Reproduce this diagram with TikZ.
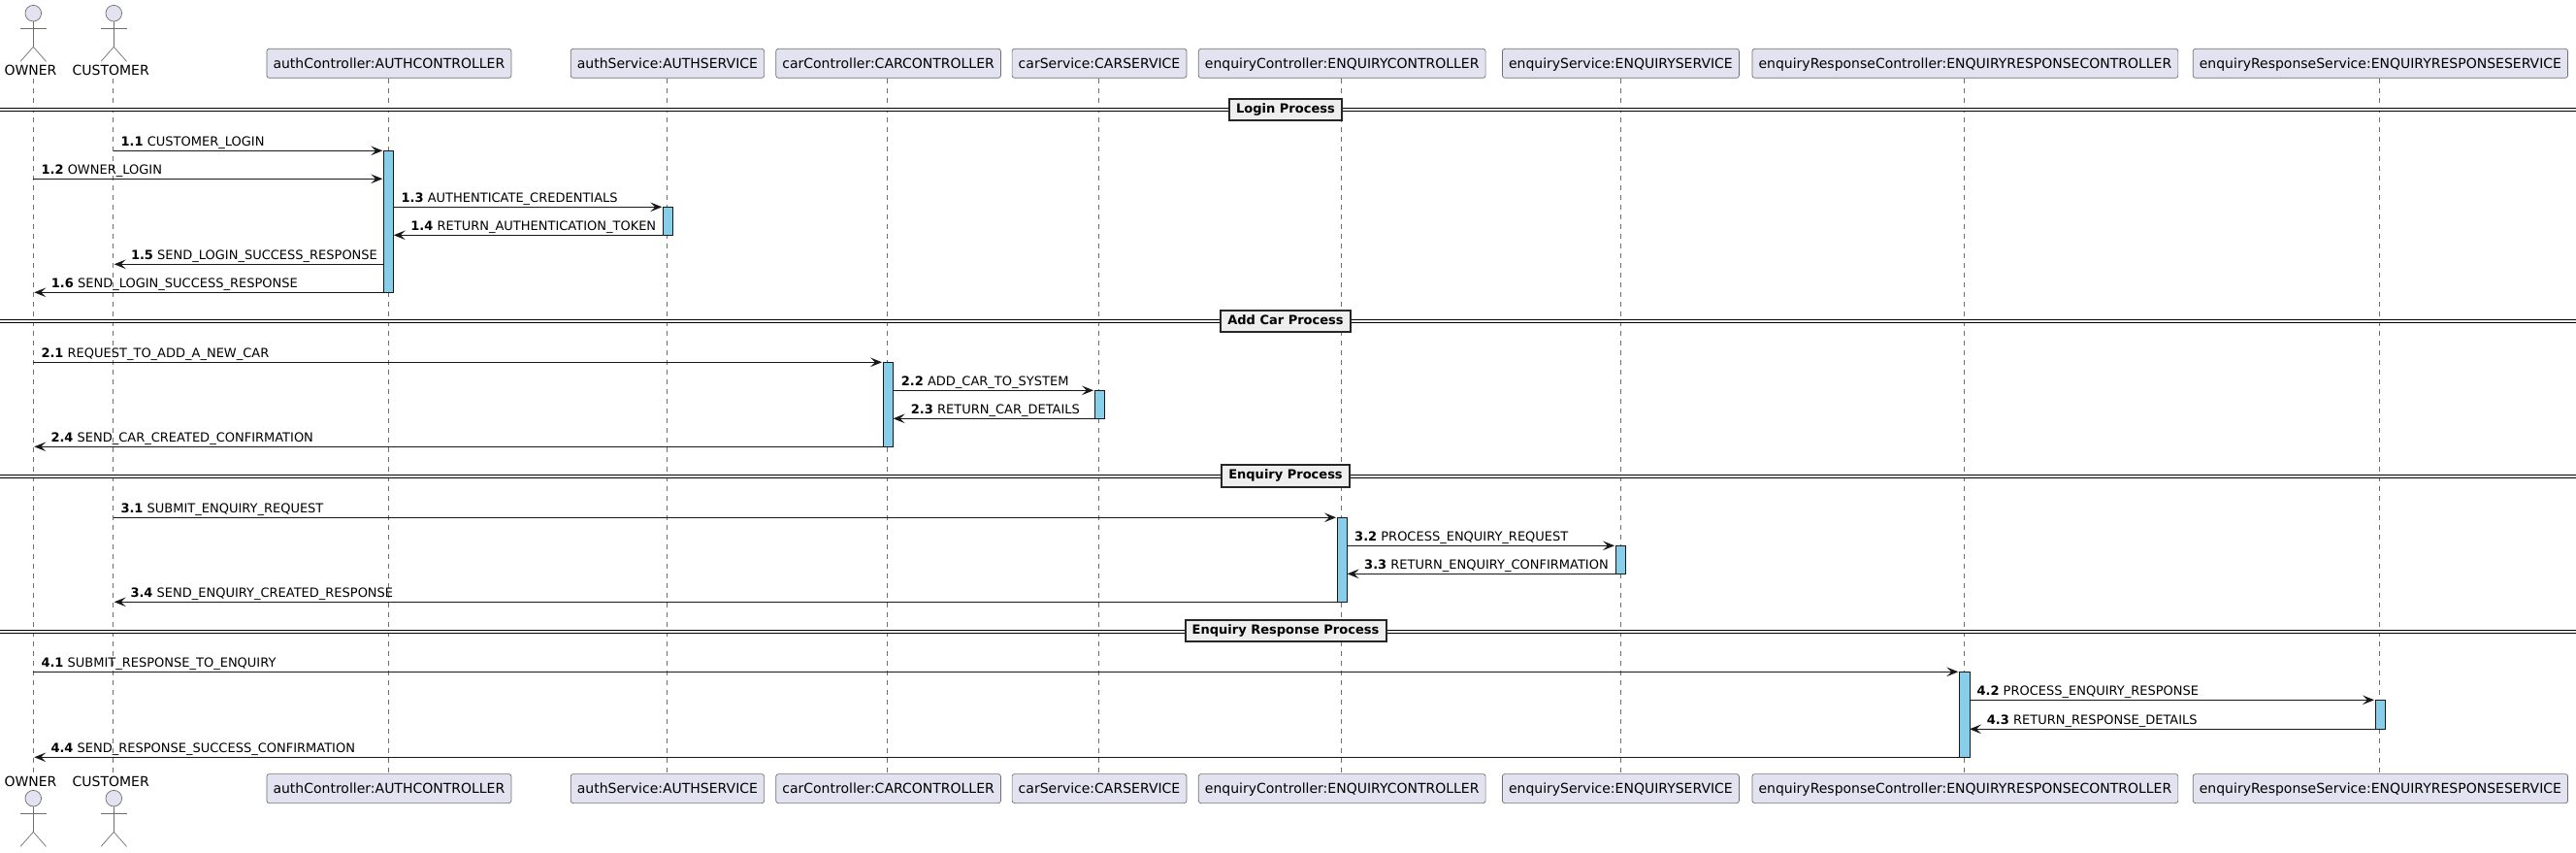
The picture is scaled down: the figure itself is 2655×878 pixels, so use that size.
\documentclass[tikz,border=0pt]{standalone}
\usepackage{fontspec}
\setmainfont{DejaVu Sans}
\usetikzlibrary{arrows.meta}

\definecolor{inkdark}{HTML}{181818}
\definecolor{inkthin}{HTML}{6E6E6E}
\definecolor{partfill}{HTML}{E2E2F0}
\definecolor{barfill}{HTML}{87CEEB}
\definecolor{sepfill}{HTML}{EEEEEE}

\tikzset{
    partbox/.style={draw=inkthin, line width=0.7pt, fill=partfill, rounded corners=2.5pt,
        inner xsep=6.6pt, inner ysep=0pt, minimum height=30pt, text height=12.4pt, text depth=3pt,
        font=\fontsize{14}{16}\selectfont, text=black},
    actorname/.style={inner sep=0pt, anchor=base, font=\fontsize{14}{16}\selectfont, text=black},
    stickman/.pic={
        \draw[inkthin, line width=0.7pt, fill=partfill] (0,0) circle (8.3pt);
        \draw[inkthin, line width=0.7pt] (0,8.3) -- (0,34.6);
        \draw[inkthin, line width=0.7pt] (-13.2,15.6) -- (13.2,15.6);
        \draw[inkthin, line width=0.7pt] (-13.2,49.6) -- (0,34.6) -- (13.2,49.6);
    },
    lifeline/.style={draw=inkthin, line width=0.6pt, dash pattern=on 5pt off 5pt},
    sepline/.style={draw=black, line width=1.1pt, double=white, double distance=1.5pt},
    seplabel/.style={draw=black!85, line width=2pt, fill=sepfill, inner xsep=7.2pt, inner ysep=0pt,
        minimum height=22.6pt, text height=10pt, text depth=3pt,
        font=\fontsize{13}{15}\selectfont\bfseries, text=black},
    activebar/.style={draw=inkdark, line width=1pt, fill=barfill, inner sep=0pt, minimum width=10.2pt},
    msg/.style={draw=inkdark, line width=1pt, -{Stealth[length=12pt, width=9.6pt, inset=5pt, inkdark]}},
    msglabel/.style={inner sep=0pt, anchor=base west, yshift=-0.5pt, font=\fontsize{13}{15}\selectfont, text=black},
}

\begin{document}
\begin{tikzpicture}[x=1pt, y=-1pt]
    \useasboundingbox (0,0) rectangle (2655,878);

    \node[partbox] (authCtrlTop) at (400.9,65.3) {authController:AUTHCONTROLLER};
    \node[partbox] (authSvcTop)  at (687.9,65.3) {authService:AUTHSERVICE};
    \node[partbox] (carCtrlTop)  at (915.6,65.3) {carController:CARCONTROLLER};
    \node[partbox] (carSvcTop)   at (1133,65.3) {carService:CARSERVICE};
    \node[partbox] (enqCtrlTop)  at (1383.2,65.3) {enquiryController:ENQUIRYCONTROLLER};
    \node[partbox] (enqSvcTop)   at (1670.4,65.3) {enquiryService:ENQUIRYSERVICE};
    \node[partbox] (respCtrlTop) at (2025.4,65.3) {enquiryResponseController:ENQUIRYRESPONSECONTROLLER};
    \node[partbox] (respSvcTop)  at (2453.4,65.3) {enquiryResponseService:ENQUIRYRESPONSESERVICE};

    \node[partbox] (authCtrlBot) at (400.9,812.6) {authController:AUTHCONTROLLER};
    \node[partbox] (authSvcBot)  at (687.9,812.6) {authService:AUTHSERVICE};
    \node[partbox] (carCtrlBot)  at (915.6,812.6) {carController:CARCONTROLLER};
    \node[partbox] (carSvcBot)   at (1133,812.6) {carService:CARSERVICE};
    \node[partbox] (enqCtrlBot)  at (1383.2,812.6) {enquiryController:ENQUIRYCONTROLLER};
    \node[partbox] (enqSvcBot)   at (1670.4,812.6) {enquiryService:ENQUIRYSERVICE};
    \node[partbox] (respCtrlBot) at (2025.4,812.6) {enquiryResponseController:ENQUIRYRESPONSECONTROLLER};
    \node[partbox] (respSvcBot)  at (2453.4,812.6) {enquiryResponseService:ENQUIRYRESPONSESERVICE};

    \pic at (34.3,13.7) {stickman};
    \pic at (117.3,13.7) {stickman};
    \pic at (34.3,822.7) {stickman};
    \pic at (117.3,822.7) {stickman};
    \node[actorname] (ownerTop)    at (31.5,77.6) {OWNER};
    \node[actorname] (customerTop) at (114.2,77.6) {CUSTOMER};
    \node[actorname] (ownerBot)    at (31.5,810) {OWNER};
    \node[actorname] (customerBot) at (114.2,810) {CUSTOMER};

    \coordinate (ownerA) at (34.4,80.5);
    \coordinate (ownerB) at (34.4,796);
    \coordinate (customerA) at (116.6,80.5);
    \coordinate (customerB) at (116.6,796);

    \draw[lifeline] (ownerA) -- (ownerB);
    \draw[lifeline] (customerA) -- (customerB);
    \draw[lifeline] ([xshift=-0.5pt]authCtrlTop.south) -- ([xshift=-0.5pt]authCtrlBot.north);
    \draw[lifeline] ([xshift=-0.5pt]authSvcTop.south) -- ([xshift=-0.5pt]authSvcBot.north);
    \draw[lifeline] ([xshift=-1.3pt]carCtrlTop.south) -- ([xshift=-1.3pt]carCtrlBot.north);
    \draw[lifeline] ([xshift=-0.7pt]carSvcTop.south) -- ([xshift=-0.7pt]carSvcBot.north);
    \draw[lifeline] ([xshift=-0.8pt]enqCtrlTop.south) -- ([xshift=-0.8pt]enqCtrlBot.north);
    \draw[lifeline] (enqSvcTop.south) -- (enqSvcBot.north);
    \draw[lifeline] ([xshift=-1.6pt]respCtrlTop.south) -- ([xshift=-1.6pt]respCtrlBot.north);
    \draw[lifeline] ([xshift=-1.2pt]respSvcTop.south) -- ([xshift=-1.2pt]respSvcBot.north);

    \coordinate (sepLoginW) at (0,113);
    \coordinate (sepLoginE) at (2655,113);
    \coordinate (sepCarW) at (0,331);
    \coordinate (sepCarE) at (2655,331);
    \coordinate (sepEnqW) at (0,491);
    \coordinate (sepEnqE) at (2655,491);
    \coordinate (sepRespW) at (0,651);
    \coordinate (sepRespE) at (2655,651);

    \draw[sepline] (sepLoginW) -- (sepLoginE);
    \draw[sepline] (sepCarW) -- (sepCarE);
    \draw[sepline] (sepEnqW) -- (sepEnqE);
    \draw[sepline] (sepRespW) -- (sepRespE);

    \node[seplabel] (sepLogin) at (1325,112.8) {Login Process\ };
    \node[seplabel] (sepCar)   at (1325,331) {Add Car Process\ };
    \node[seplabel] (sepEnq)   at (1325,490.2) {Enquiry Process\ };
    \node[seplabel] (sepResp)  at (1325,650) {Enquiry Response Process\ };

    \node[activebar, minimum height=146pt] (authCtrlBar) at (400.7,228.3) {};
    \node[activebar, minimum height=29pt]  (authSvcBar)  at (688.4,227.8) {};
    \node[activebar, minimum height=87pt]  (carCtrlBar)  at (915.5,416.8) {};
    \node[activebar, minimum height=29pt]  (carSvcBar)   at (1133.5,416.8) {};
    \node[activebar, minimum height=87pt]  (enqCtrlBar)  at (1383.5,576.8) {};
    \node[activebar, minimum height=29pt]  (enqSvcBar)   at (1670.5,576.8) {};
    \node[activebar, minimum height=88pt]  (respCtrlBar) at (2024.9,736.3) {};
    \node[activebar, minimum height=30pt]  (respSvcBar)  at (2453.4,736.3) {};

    \coordinate (M11a) at (116.6,155.3);
    \coordinate (M11b) at (394.3,155.3);
    \coordinate (M12a) at (34.4,184.3);
    \coordinate (M12b) at (394.3,184.3);
    \coordinate (M13a) at (405.8,213.3);
    \coordinate (M13b) at (682.3,213.3);
    \coordinate (M14a) at (683.4,242.3);
    \coordinate (M14b) at (405.8,242.3);
    \coordinate (M15a) at (395.6,272.3);
    \coordinate (M15b) at (117.7,272.3);
    \coordinate (M16a) at (395.6,301.3);
    \coordinate (M16b) at (35.3,301.3);

    \coordinate (M21a) at (34.4,373.3);
    \coordinate (M21b) at (909,373.3);
    \coordinate (M22a) at (920.6,402.3);
    \coordinate (M22b) at (1127,402.3);
    \coordinate (M23a) at (1128.4,431.3);
    \coordinate (M23b) at (920.6,431.3);
    \coordinate (M24a) at (910.4,460.3);
    \coordinate (M24b) at (35.3,460.3);

    \coordinate (M31a) at (116.6,533.3);
    \coordinate (M31b) at (1377,533.3);
    \coordinate (M32a) at (1388.6,562.3);
    \coordinate (M32b) at (1664,562.3);
    \coordinate (M33a) at (1665.4,591.3);
    \coordinate (M33b) at (1388.6,591.3);
    \coordinate (M34a) at (1378.4,620.3);
    \coordinate (M34b) at (117.7,620.3);

    \coordinate (M41a) at (34.4,692.3);
    \coordinate (M41b) at (2018.3,692.3);
    \coordinate (M42a) at (2030,721.3);
    \coordinate (M42b) at (2447,721.3);
    \coordinate (M43a) at (2448.3,751.3);
    \coordinate (M43b) at (2030,751.3);
    \coordinate (M44a) at (2019.8,780.3);
    \coordinate (M44b) at (35.3,780.3);

    \draw[msg] (M11a) -- (M11b);
    \draw[msg] (M12a) -- (M12b);
    \draw[msg] (M13a) -- (M13b);
    \draw[msg] (M14a) -- (M14b);
    \draw[msg] (M15a) -- (M15b);
    \draw[msg] (M16a) -- (M16b);
    \draw[msg] (M21a) -- (M21b);
    \draw[msg] (M22a) -- (M22b);
    \draw[msg] (M23a) -- (M23b);
    \draw[msg] (M24a) -- (M24b);
    \draw[msg] (M31a) -- (M31b);
    \draw[msg] (M32a) -- (M32b);
    \draw[msg] (M33a) -- (M33b);
    \draw[msg] (M34a) -- (M34b);
    \draw[msg] (M41a) -- (M41b);
    \draw[msg] (M42a) -- (M42b);
    \draw[msg] (M43a) -- (M43b);
    \draw[msg] (M44a) -- (M44b);

    \node[msglabel] (L11) at (124.5,150.3) {\textbf{1.1} CUSTOMER\_LOGIN};
    \node[msglabel] (L12) at (42.4,179.3) {\textbf{1.2} OWNER\_LOGIN};
    \node[msglabel] (L13) at (413.4,208.3) {\textbf{1.3} AUTHENTICATE\_CREDENTIALS};
    \node[msglabel] (L14) at (423.2,237.3) {\textbf{1.4} RETURN\_AUTHENTICATION\_TOKEN};
    \node[msglabel] (L15) at (134.8,267.3) {\textbf{1.5} SEND\_LOGIN\_SUCCESS\_RESPONSE};
    \node[msglabel] (L16) at (52.7,296.3) {\textbf{1.6} SEND\_LOGIN\_SUCCESS\_RESPONSE};
    \node[msglabel] (L21) at (42.3,368.3) {\textbf{2.1} REQUEST\_TO\_ADD\_A\_NEW\_CAR};
    \node[msglabel] (L22) at (928.7,397.3) {\textbf{2.2} ADD\_CAR\_TO\_SYSTEM};
    \node[msglabel] (L23) at (938.7,426.3) {\textbf{2.3} RETURN\_CAR\_DETAILS};
    \node[msglabel] (L24) at (52.3,455.3) {\textbf{2.4} SEND\_CAR\_CREATED\_CONFIRMATION};
    \node[msglabel] (L31) at (124.3,528.3) {\textbf{3.1} SUBMIT\_ENQUIRY\_REQUEST};
    \node[msglabel] (L32) at (1396,557.3) {\textbf{3.2} PROCESS\_ENQUIRY\_REQUEST};
    \node[msglabel] (L33) at (1406,586.3) {\textbf{3.3} RETURN\_ENQUIRY\_CONFIRMATION};
    \node[msglabel] (L34) at (134.3,615.3) {\textbf{3.4} SEND\_ENQUIRY\_CREATED\_RESPONSE};
    \node[msglabel] (L41) at (42.3,687.3) {\textbf{4.1} SUBMIT\_RESPONSE\_TO\_ENQUIRY};
    \node[msglabel] (L42) at (2037.3,716.3) {\textbf{4.2} PROCESS\_ENQUIRY\_RESPONSE};
    \node[msglabel] (L43) at (2047.7,746.3) {\textbf{4.3} RETURN\_RESPONSE\_DETAILS};
    \node[msglabel] (L44) at (52.3,775.3) {\textbf{4.4} SEND\_RESPONSE\_SUCCESS\_CONFIRMATION};
\end{tikzpicture}
\end{document}
